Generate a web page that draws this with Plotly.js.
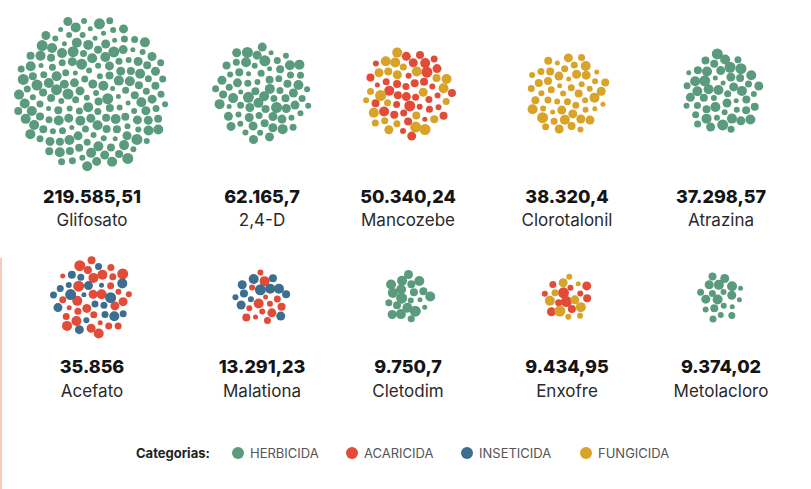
<!DOCTYPE html>
<html><head><meta charset="utf-8">
<script src="https://cdn.plot.ly/plotly-3.0.1.min.js"></script>
<style>html,body{margin:0;padding:0;background:#fff;}#chart{width:811px;height:489px;}</style>
</head><body><div id="chart"></div>
<script>
// ---- data ----
const names = ["Glifosato","2,4-D","Mancozebe","Clorotalonil","Atrazina","Acefato","Malationa","Cletodim","Enxofre","Metolacloro"];
const values = [219585.51, 62165.7, 50340.24, 38320.4, 37298.57, 35856, 13291.23, 9750.7, 9434.95, 9374.02];
const valueLabels = ["219.585,51","62.165,7","50.340,24","38.320,4","37.298,57","35.856","13.291,23","9.750,7","9.434,95","9.374,02"];
const catPrimary = ["HERBICIDA","HERBICIDA","ACARICIDA","FUNGICIDA","HERBICIDA","ACARICIDA","ACARICIDA","HERBICIDA","ACARICIDA","HERBICIDA"];
const catSecondary = [null,null,"FUNGICIDA",null,null,"INSETICIDA","INSETICIDA",null,"FUNGICIDA",null];
const primaryShare = [1,1,0.55,1,1,0.5,0.5,1,0.5,1];
const categories = ["HERBICIDA","ACARICIDA","INSETICIDA","FUNGICIDA"];
const legendTitle = "Categorias:";

// ---- styles / layout ----
const colors = {HERBICIDA:"#5b9b7d", ACARICIDA:"#e34b39", INSETICIDA:"#3c6e8f", FUNGICIDA:"#d9a228"};
const W = 811, H = 489;
const colX = [92, 262, 408, 567, 721];
const rowY = [93, 298];
const valueY = [198, 368];
const nameY = [222, 393];
const maxR = 80;
const golden = Math.PI*(3-Math.sqrt(5));
const legendY = 453;
const legendDotX = [238, 352, 467, 586];
const FONT = "Inter, Roboto, sans-serif";
// deterministic layout jitter (dot sizes / colour mixing only)
function jit(k, i, s){ const v = Math.sin(k*12.9898 + i*78.233 + s*37.719)*43758.5453; return v - Math.floor(v); }

const dots = {}; categories.forEach(c => dots[c] = {x:[], y:[], s:[]});
const vmax = Math.max(...values);
names.forEach((n,i) => {
  const cx = colX[i%5], cy = rowY[Math.floor(i/5)];
  const R = maxR*Math.pow(values[i]/vmax, 0.34);
  const count = Math.round(Math.PI*R*R/115);
  const Reff = R - 4;
  for (let k=0;k<count;k++){
    const r = Reff*Math.sqrt((k+0.5)/count);
    const t = k*golden + i;
    const x = cx + r*Math.cos(t), y = cy + r*Math.sin(t);
    let cat = catPrimary[i];
    if (catSecondary[i] && jit(k,i,1) >= primaryShare[i]) cat = catSecondary[i];
    dots[cat].x.push(x); dots[cat].y.push(y);
    dots[cat].s.push(5 + Math.round(jit(k,i,2)*6));
  }
});

const traces = [];
categories.forEach(c => {
  traces.push({type:"scatter", mode:"markers", x:dots[c].x, y:dots[c].y, showlegend:false, hoverinfo:"skip",
    marker:{size:dots[c].s, color:colors[c], opacity:1, line:{width:0}}});
});
// legend dots
traces.push({type:"scatter", mode:"markers", x:legendDotX, y:categories.map(()=>legendY), showlegend:false, hoverinfo:"skip",
  marker:{size:12, color:categories.map(c=>colors[c]), opacity:1, line:{width:0}}});
traces.push({type:"scatter", mode:"text", x:names.map((n,i)=>colX[i%5]), y:names.map((n,i)=>valueY[Math.floor(i/5)]),
  text:valueLabels, textposition:"middle center", showlegend:false, hoverinfo:"skip",
  textfont:{family:FONT, size:18, weight:800, color:"#151515"}});
traces.push({type:"scatter", mode:"text", x:names.map((n,i)=>colX[i%5]), y:names.map((n,i)=>nameY[Math.floor(i/5)]),
  text:names, textposition:"middle center", showlegend:false, hoverinfo:"skip",
  textfont:{family:FONT, size:17, color:"#2a2a2a"}});

const annotations = [{xref:"x", yref:"y", x:212, y:legendY, xanchor:"right", yanchor:"middle", showarrow:false,
  text:legendTitle, font:{family:FONT, size:13, weight:700, color:"#222"}}];
categories.forEach((c,j) => annotations.push({xref:"x", yref:"y", x:legendDotX[j]+10, y:legendY, xanchor:"left", yanchor:"middle",
  showarrow:false, text:c, font:{family:FONT, size:13, color:"#555"}}));

const layout = {
  width:W, height:H, margin:{l:0,r:0,t:0,b:0},
  paper_bgcolor:"#fff", plot_bgcolor:"#fff",
  xaxis:{range:[0,W], visible:false, fixedrange:true},
  yaxis:{range:[H,0], visible:false, fixedrange:true},
  showlegend:false,
  annotations:annotations,
  shapes:[{type:"line", xref:"x", yref:"y", x0:1, x1:1, y0:258, y1:489, line:{color:"#f8cbb8", width:2}}]
};
Plotly.newPlot("chart", traces, layout, {displayModeBar:false, staticPlot:true});
</script></body></html>
